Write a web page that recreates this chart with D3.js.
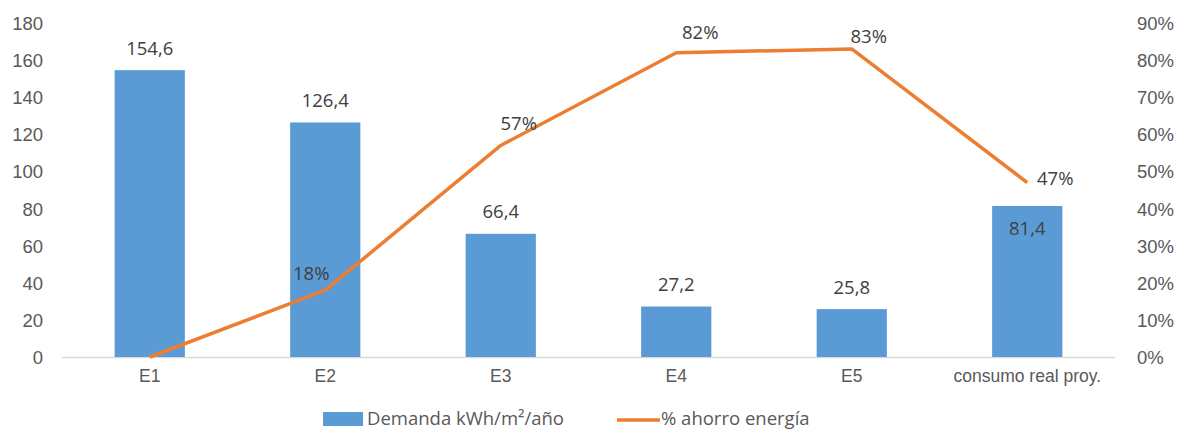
<!DOCTYPE html>
<html>
<head>
<meta charset="utf-8">
<script src="https://cdn.jsdelivr.net/npm/d3@7"></script>
<style>
  html, body { margin: 0; padding: 0; background: #fff; }
  svg { display: block; font-family: "Open Sans", "Noto Sans", sans-serif; }
</style>
</head>
<body>
<svg id="chart" width="1177" height="430"></svg>
<script>
// Escenarios y valores
const categories = ["E1", "E2", "E3", "E4", "E5", "consumo real proy."];
const demanda = [154.6, 126.4, 66.4, 27.2, 25.8, 81.4];
const ahorro = [0, 0.18, 0.57, 0.82, 0.83, 0.47];
const leftTicks = [0, 20, 40, 60, 80, 100, 120, 140, 160, 180];
const rightTicks = [0, 0.1, 0.2, 0.3, 0.4, 0.5, 0.6, 0.7, 0.8, 0.9];
const seriesNames = ["Demanda kWh/m²/año", "% ahorro energía"];

const plot = { left: 62, right: 1115, top: 23, bottom: 357 };
const blue = "#5B9BD5", orange = "#ED7D31";
const tickColor = "#595959", labelColor = "#404040";
const fs = "18.5px";

const svg = d3.select("#chart");

const x = d3.scaleBand().domain(categories).range([plot.left, plot.right]).paddingInner(0.6).paddingOuter(0.3);
const yL = d3.scaleLinear().domain([0, 180]).range([plot.bottom, plot.top]);
const yR = d3.scaleLinear().domain([0, 0.9]).range([plot.bottom, plot.top]);
const fmtNum = d => d3.format(".1f")(d).replace(".", ",");
const fmtPct = d3.format(".0%");

// Eje izquierdo
const axL = svg.append("g").attr("transform", `translate(${plot.left - 19},0)`)
  .call(d3.axisLeft(yL).tickValues(leftTicks).tickSize(0).tickPadding(0));
axL.select(".domain").remove();
axL.selectAll("text").attr("fill", tickColor).style("font-size", fs).attr("dy", "0.35em");

// Eje derecho
const axR = svg.append("g").attr("transform", `translate(${plot.right + 22},0)`)
  .call(d3.axisRight(yR).tickValues(rightTicks).tickFormat(fmtPct).tickSize(0).tickPadding(0));
axR.select(".domain").remove();
axR.selectAll("text").attr("fill", tickColor).style("font-size", fs).attr("dy", "0.35em");

// Eje de categorías
const axB = svg.append("g").attr("transform", `translate(0,${plot.bottom})`)
  .call(d3.axisBottom(x).tickSize(0).tickPadding(13));
axB.select(".domain").attr("stroke", "#d9d9d9").attr("stroke-width", 1.3)
  .attr("d", `M${plot.left},0.5H${plot.right}`);
axB.selectAll("text").attr("fill", tickColor).style("font-size", "17.5px");

// Barras
svg.append("g").selectAll("rect").data(demanda).join("rect")
  .attr("x", (d, i) => x(categories[i]))
  .attr("width", x.bandwidth())
  .attr("y", d => yL(d))
  .attr("height", d => yL(0) - yL(d))
  .attr("fill", blue);

// Etiquetas de barras (la última va dentro de la barra)
svg.append("g").selectAll("text").data(demanda).join("text")
  .attr("x", (d, i) => x(categories[i]) + x.bandwidth() / 2)
  .attr("y", (d, i) => yL(d) + (i === categories.length - 1 ? 23 : -22))
  .attr("dy", "0.35em")
  .attr("text-anchor", "middle")
  .attr("fill", labelColor)
  .style("font-size", fs)
  .text(d => fmtNum(d));

// Línea de ahorro
const cx = i => x(categories[i]) + x.bandwidth() / 2;
const line = d3.line().x((d, i) => cx(i)).y(d => yR(d));
svg.append("path").datum(ahorro)
  .attr("d", line)
  .attr("fill", "none")
  .attr("stroke", orange)
  .attr("stroke-width", 3.5)
  .attr("stroke-linejoin", "round");

// Etiquetas de la línea (sin etiqueta en el punto inicial)
const labelOffsets = [null, [-14, -17], [18, -22], [24, -20], [17, -12], [28, -4]];
const labelled = ahorro.map((v, i) => ({ v, i })).filter(d => labelOffsets[d.i] !== null);
svg.append("g").selectAll("text").data(labelled).join("text")
  .attr("x", d => cx(d.i) + labelOffsets[d.i][0])
  .attr("y", d => yR(d.v) + labelOffsets[d.i][1])
  .attr("dy", "0.35em")
  .attr("text-anchor", "middle")
  .attr("fill", labelColor)
  .style("font-size", fs)
  .text(d => fmtPct(d.v));

// Leyenda
const lg = svg.append("g").attr("transform", "translate(0,418)");
lg.append("rect").attr("x", 323).attr("y", -6).attr("width", 40).attr("height", 14).attr("fill", blue);
lg.append("text").attr("x", 367).attr("y", 0).attr("dy", "0.4em")
  .attr("fill", tickColor).style("font-size", "18.5px").text(seriesNames[0]);
lg.append("line").attr("x1", 617).attr("x2", 660).attr("y1", 2).attr("y2", 2)
  .attr("stroke", orange).attr("stroke-width", 3.5);
lg.append("text").attr("x", 661).attr("y", 0).attr("dy", "0.4em")
  .attr("fill", tickColor).style("font-size", "18.5px").text(seriesNames[1]);
</script>
</body>
</html>
